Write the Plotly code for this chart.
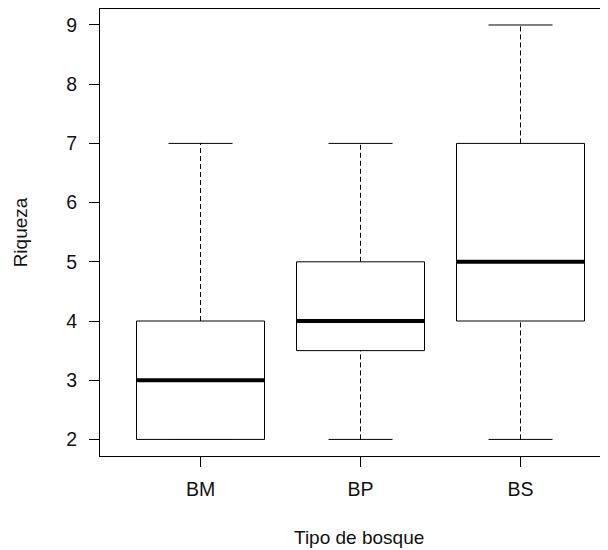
import plotly.graph_objects as go

categories = ["BM", "BP", "BS"]
q1 = [2, 3.5, 4]
median = [3, 4, 5]
q3 = [4, 5, 7]
lower = [2, 2, 2]
upper = [7, 7, 9]
yticks = [2, 3, 4, 5, 6, 7, 8, 9]

pos = [1, 2, 3]
half_box = 0.4
half_cap = 0.2

fig = go.Figure()
for i, c in enumerate(categories):
    x0 = pos[i]
    # whiskers (dashed)
    fig.add_trace(go.Scatter(x=[x0, x0, None, x0, x0], y=[q3[i], upper[i], None, lower[i], q1[i]],
                             mode="lines", line=dict(color="black", width=1, dash="5px,3px"),
                             hoverinfo="skip", showlegend=False))
    # caps
    fig.add_trace(go.Scatter(x=[x0 - half_cap, x0 + half_cap, None, x0 - half_cap, x0 + half_cap],
                             y=[upper[i], upper[i], None, lower[i], lower[i]],
                             mode="lines", line=dict(color="black", width=1),
                             hoverinfo="skip", showlegend=False))
    # box
    fig.add_trace(go.Scatter(x=[x0 - half_box, x0 + half_box, x0 + half_box, x0 - half_box, x0 - half_box],
                             y=[q1[i], q1[i], q3[i], q3[i], q1[i]],
                             mode="lines", line=dict(color="black", width=1),
                             fill="toself", fillcolor="white",
                             name=c, showlegend=False))
    # median
    fig.add_trace(go.Scatter(x=[x0 - half_box, x0 + half_box], y=[median[i], median[i]],
                             mode="lines", line=dict(color="black", width=4),
                             hoverinfo="skip", showlegend=False))

fam = "Liberation Sans, Arial, sans-serif"
tickfont = dict(family=fam, size=19.5, color="#111111")
titlefont = dict(family=fam, size=19, color="#111111")

xshift = 0.5 / 160.0

fig.update_layout(
    width=600, height=542,
    margin=dict(l=92, r=0, t=1, b=94),
    paper_bgcolor="white", plot_bgcolor="white",
    font=dict(family=fam, size=19, color="#111111"),
    xaxis=dict(range=[0.375 - xshift, 3.55 - xshift], tickvals=pos, ticktext=categories,
               showgrid=False, zeroline=False, showline=True, linecolor="black", linewidth=1,
               mirror=True, ticks="outside", ticklen=10, tickcolor="black",
               tickfont=tickfont, ticklabelstandoff=6),
    yaxis=dict(range=[1.72, 9.27], tickvals=yticks,
               showgrid=False, zeroline=False, showline=True, linecolor="black", linewidth=1,
               ticks="outside", ticklen=10, tickcolor="black",
               tickfont=tickfont, ticklabelstandoff=8,
               title=dict(text="Riqueza", standoff=33, font=titlefont)),
    annotations=[dict(text="Tipo de bosque", xref="paper", yref="paper", x=0.51, y=0,
                      xanchor="center", yanchor="middle", yshift=-81, showarrow=False,
                      font=titlefont)],
)

fig.write_html("out.html")
